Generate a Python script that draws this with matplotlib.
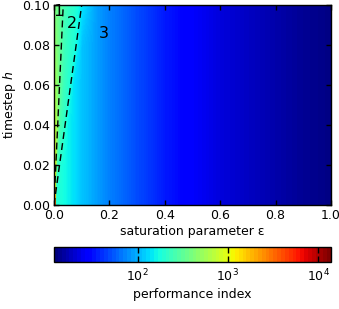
import numpy as np
import matplotlib
matplotlib.use("Agg")
import matplotlib.pyplot as plt
from matplotlib.colors import LogNorm
from matplotlib.cm import ScalarMappable
from matplotlib.ticker import LogFormatterMathtext, NullLocator

# ---- data ----
eps_values = [0.0, 0.005, 0.01, 0.02, 0.033, 0.05, 0.07, 0.1, 0.15, 0.2,
              0.3, 0.4, 0.5, 0.6, 0.7, 0.8, 0.9, 1.0]
h_values = [0.0, 0.005, 0.01, 0.02, 0.04, 0.06, 0.08, 0.1]

# tail of every row (eps >= 0.15), region 3 depends on eps only
tail = [88, 70, 48, 34, 26, 21, 18, 15.5, 13.5, 12.2]
row_h000 = [14000, 200, 195, 185, 172, 155, 138, 112] + tail
row_h005 = [5000, 250, 195, 185, 172, 155, 138, 112] + tail
row_h010 = [2500, 300, 200, 185, 172, 155, 138, 112] + tail
row_h020 = [1300, 700, 260, 190, 172, 155, 138, 112] + tail
row_h040 = [800, 650, 500, 260, 220, 155, 138, 112] + tail
row_h060 = [600, 520, 450, 320, 240, 200, 138, 112] + tail
row_h080 = [480, 440, 400, 330, 250, 215, 190, 112] + tail
row_h100 = [420, 390, 360, 320, 260, 225, 200, 140] + tail

region_labels = ["1", "2", "3"]
region_label_eps = [0.0144, 0.065, 0.18]
region_label_h = [0.0965, 0.091, 0.086]
boundary_ratio = [1.0 / 3.0, 1.0]   # eps = ratio * h

cb_ticks = [1e2, 1e3, 1e4]
vmin, vmax = 11.8, 1.39e4

# ---- figure ----
plt.rcParams['font.family'] = ['DejaVu Sans']
fig = plt.figure(figsize=(3.39, 3.09), dpi=100)
ax = fig.add_axes([54/339, 1 - 205/309, 277/339, 200/309])
cax = fig.add_axes([54/339, 1 - 262/309, 277/339, 15/309])

P = np.array([row_h000, row_h005, row_h010, row_h020, row_h040,
              row_h060, row_h080, row_h100], dtype=float)
E, H = np.meshgrid(eps_values, h_values)
norm = LogNorm(vmin=vmin, vmax=vmax)
levels = np.logspace(np.log10(vmin), np.log10(vmax), 256)
ax.contourf(E, H, np.clip(P, vmin, vmax), levels=levels, norm=norm, cmap='jet',
            antialiased=False)

hh = np.array([0.0, 0.1])
for r in boundary_ratio:
    ax.plot(r * hh, hh, color='black', ls=(0, (5, 3)), lw=1.0)

for t, x, y in zip(region_labels, region_label_eps, region_label_h):
    ax.text(x, y, t, fontsize=11.5, ha='center', va='center')

ax.set_xlim(0, 1)
ax.set_ylim(0, 0.1)
ax.set_xticks([0.0, 0.2, 0.4, 0.6, 0.8, 1.0])
ax.set_xticklabels(['0.0', '0.2', '0.4', '0.6', '0.8', '1.0'])
ax.set_yticks([0.0, 0.02, 0.04, 0.06, 0.08, 0.10])
ax.set_yticklabels(['0.00', '0.02', '0.04', '0.06', '0.08', '0.10'])
ax.tick_params(direction='in', top=True, right=True, labelsize=9, length=3.5,
               width=1, pad=3)
ax.set_xlabel('saturation parameter ε', fontsize=9, labelpad=2)
ax.set_ylabel('timestep $h$', fontsize=9, labelpad=3)
for s in ax.spines.values():
    s.set_linewidth(1.0)

sm = ScalarMappable(norm=norm, cmap=plt.get_cmap('jet', 72))
cb = fig.colorbar(sm, cax=cax, orientation='horizontal')
cb.set_ticks(cb_ticks)
cb.ax.xaxis.set_major_formatter(LogFormatterMathtext())
cb.ax.xaxis.set_minor_locator(NullLocator())
cb.ax.tick_params(axis='x', direction='in', top=True, bottom=True, length=4.5,
                  width=1, labelsize=9, pad=4)
cb.outline.set_linewidth(1.0)
cb.set_label('performance index', fontsize=9, labelpad=3)

fig.savefig('out.png', dpi=100)
